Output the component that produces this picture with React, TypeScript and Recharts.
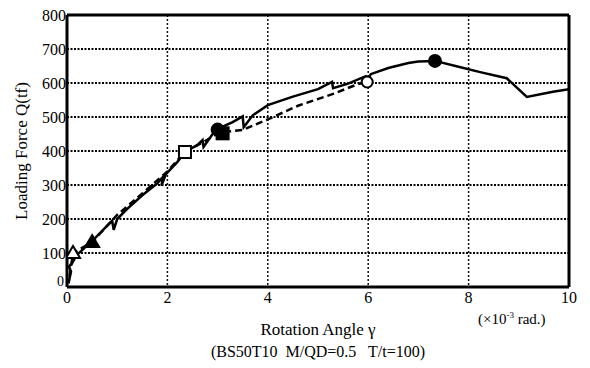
import React from 'react';
import {
  ComposedChart, Line, Scatter, XAxis, YAxis, ReferenceLine, Label, CartesianGrid,
} from 'recharts';

const xTicks = [0, 2, 4, 6, 8, 10];
const yTicks = [0, 100, 200, 300, 400, 500, 600, 700, 800];

const solidCurve = [
  { x: 0.03, y: 10 }, { x: 0.08, y: 45 }, { x: 0.04, y: 60 }, { x: 0.1, y: 70 },
  { x: 0.2, y: 95 }, { x: 0.35, y: 115 }, { x: 0.5, y: 135 }, { x: 0.7, y: 165 },
  { x: 0.9, y: 195 }, { x: 0.93, y: 168 }, { x: 1.0, y: 200 }, { x: 1.2, y: 230 },
  { x: 1.5, y: 270 }, { x: 1.8, y: 305 }, { x: 1.92, y: 325 }, { x: 1.88, y: 298 },
  { x: 1.97, y: 332 }, { x: 2.2, y: 368 }, { x: 2.35, y: 397 }, { x: 2.6, y: 418 },
  { x: 2.7, y: 432 }, { x: 2.72, y: 412 }, { x: 2.9, y: 450 }, { x: 3.05, y: 468 },
  { x: 3.3, y: 485 }, { x: 3.5, y: 502 }, { x: 3.52, y: 470 }, { x: 3.7, y: 505 },
  { x: 4.0, y: 535 }, { x: 4.5, y: 560 }, { x: 5.0, y: 582 }, { x: 5.28, y: 603 },
  { x: 5.3, y: 585 }, { x: 5.6, y: 598 }, { x: 5.95, y: 620 }, { x: 6.0, y: 610 },
  { x: 6.05, y: 626 }, { x: 6.4, y: 644 }, { x: 6.8, y: 659 }, { x: 7.0, y: 663 },
  { x: 7.33, y: 665 }, { x: 7.8, y: 648 }, { x: 8.23, y: 632 }, { x: 8.76, y: 614 },
  { x: 9.16, y: 559 }, { x: 9.68, y: 574 }, { x: 10.0, y: 582 },
];

const dashedCurve = [
  { x: 0.05, y: 30 }, { x: 0.12, y: 100 }, { x: 0.3, y: 115 }, { x: 0.5, y: 132 },
  { x: 1.0, y: 212 }, { x: 1.5, y: 275 }, { x: 2.0, y: 340 }, { x: 2.35, y: 397 },
  { x: 2.7, y: 425 }, { x: 3.05, y: 455 }, { x: 3.5, y: 462 }, { x: 4.0, y: 493 },
  { x: 4.6, y: 533 }, { x: 5.3, y: 568 }, { x: 5.8, y: 597 }, { x: 5.98, y: 603 },
];

const openTriangle = [{ x: 0.12, y: 100 }];
const filledTriangle = [{ x: 0.5, y: 132 }];
const openSquare = [{ x: 2.35, y: 397 }];
const filledSquare = [{ x: 3.1, y: 452 }];
const filledCircleA = [{ x: 3.0, y: 463 }];
const openCircle = [{ x: 5.98, y: 603 }];
const filledCircleB = [{ x: 7.33, y: 665 }];

const serif = '"Liberation Serif", "Times New Roman", Times, serif';

const xMin = xTicks[0];
const xMax = xTicks[xTicks.length - 1];
const yMin = yTicks[0];
const yMax = yTicks[yTicks.length - 1];

// dotted grid built from the tick arrays (segments separated by null gaps)
const hGrid: any[] = [];
yTicks.slice(1, -1).forEach((t) => {
  hGrid.push({ x: xMin, y: t }, { x: xMax, y: t }, { x: xMax, y: null });
});

const tri = (filled: boolean) => (p: any) => {
  const { cx, cy } = p;
  return (
    <path
      d={`M${cx},${cy - 7} L${cx + 7},${cy + 5} L${cx - 7},${cy + 5} Z`}
      fill={filled ? '#000' : '#fff'}
      stroke="#000"
      strokeWidth={2}
    />
  );
};
const sq = (filled: boolean) => (p: any) => {
  const { cx, cy } = p;
  return <rect x={cx - 6} y={cy - 6} width={12} height={12} fill={filled ? '#000' : '#fff'} stroke="#000" strokeWidth={2} />;
};
const circ = (filled: boolean) => (p: any) => {
  const { cx, cy } = p;
  return <circle cx={cx} cy={cy} r={filled ? 6 : 5.5} fill={filled ? '#000' : '#fff'} stroke="#000" strokeWidth={2} />;
};

const YTick = (p: any) => {
  const { x, y, payload } = p;
  const isZero = payload.value === 0;
  return (
    <text x={x - (isZero ? 2 : 0)} y={y + (isZero ? -6 : 0)} dy="0.355em" textAnchor="end" fill="#000" fontSize={isZero ? 14 : 16} fontFamily={serif}>
      {payload.value}
    </text>
  );
};

export default function App() {
  return (
    <div style={{ position: 'absolute', left: 0, top: 0, width: 590, height: 368, background: '#fff', fontFamily: serif }}>
      <ComposedChart
        width={590}
        height={368}
        margin={{ top: 15, right: 21, left: 7, bottom: 51 }}
        style={{ fontFamily: serif }}
      >
        <CartesianGrid stroke="#111" strokeWidth={1.5} strokeDasharray="2 2" horizontal={false} vertical />
        <XAxis
          type="number"
          dataKey="x"
          domain={[xMin, xMax]}
          ticks={xTicks}
          height={30}
          tickLine={false}
          tickSize={0}
          tickMargin={5}
          axisLine={{ stroke: '#000', strokeWidth: 3 }}
          tick={{ fill: '#000', fontSize: 16, fontFamily: serif }}
          allowDataOverflow
        >
          <Label value="Rotation Angle γ" position="insideBottom" offset={-18} style={{ fill: '#000', fontSize: 17, fontFamily: serif }} />
        </XAxis>
        <YAxis
          type="number"
          dataKey="y"
          domain={[yMin, yMax]}
          ticks={yTicks}
          width={60}
          tickLine={false}
          tickSize={0}
          tickMargin={1}
          axisLine={{ stroke: '#000', strokeWidth: 3 }}
          tick={<YTick />}
          allowDataOverflow
        >
          <Label value="Loading Force Q(tf)" angle={-90} position="insideLeft" offset={14} style={{ fill: '#000', fontSize: 17, fontFamily: serif, textAnchor: 'middle' }} />
        </YAxis>
        <Line data={hGrid} dataKey="y" type="linear" stroke="#000" strokeWidth={2} strokeDasharray="2 1.5" dot={false} activeDot={false} connectNulls={false} isAnimationActive={false} />
        <ReferenceLine y={yMax} stroke="#000" strokeWidth={3} />
        <ReferenceLine x={xMax} stroke="#000" strokeWidth={3} />
        <Line data={dashedCurve} dataKey="y" type="linear" stroke="#000" strokeWidth={2.5} strokeDasharray="7 4" dot={false} isAnimationActive={false} />
        <Line data={solidCurve} dataKey="y" type="linear" stroke="#000" strokeWidth={2.5} dot={false} isAnimationActive={false} />
        <Scatter data={openTriangle} dataKey="y" shape={tri(false)} isAnimationActive={false} />
        <Scatter data={filledTriangle} dataKey="y" shape={tri(true)} isAnimationActive={false} />
        <Scatter data={openSquare} dataKey="y" shape={sq(false)} isAnimationActive={false} />
        <Scatter data={filledSquare} dataKey="y" shape={sq(true)} isAnimationActive={false} />
        <Scatter data={filledCircleA} dataKey="y" shape={circ(true)} isAnimationActive={false} />
        <Scatter data={openCircle} dataKey="y" shape={circ(false)} isAnimationActive={false} />
        <Scatter data={filledCircleB} dataKey="y" shape={circ(true)} isAnimationActive={false} />
      </ComposedChart>
      <div style={{ position: 'absolute', left: 478, top: 306, fontSize: 15, lineHeight: '18px', color: '#000', whiteSpace: 'nowrap' }}>
        (×10<sup style={{ fontSize: 9 }}>-3</sup> rad.)
      </div>
      <div style={{ position: 'absolute', left: 0, width: 636, top: 343, textAlign: 'center', fontSize: 16, color: '#000', whiteSpace: 'pre' }}>
        {'(BS50T10  M/QD=0.5   T/t=100)'}
      </div>
    </div>
  );
}
